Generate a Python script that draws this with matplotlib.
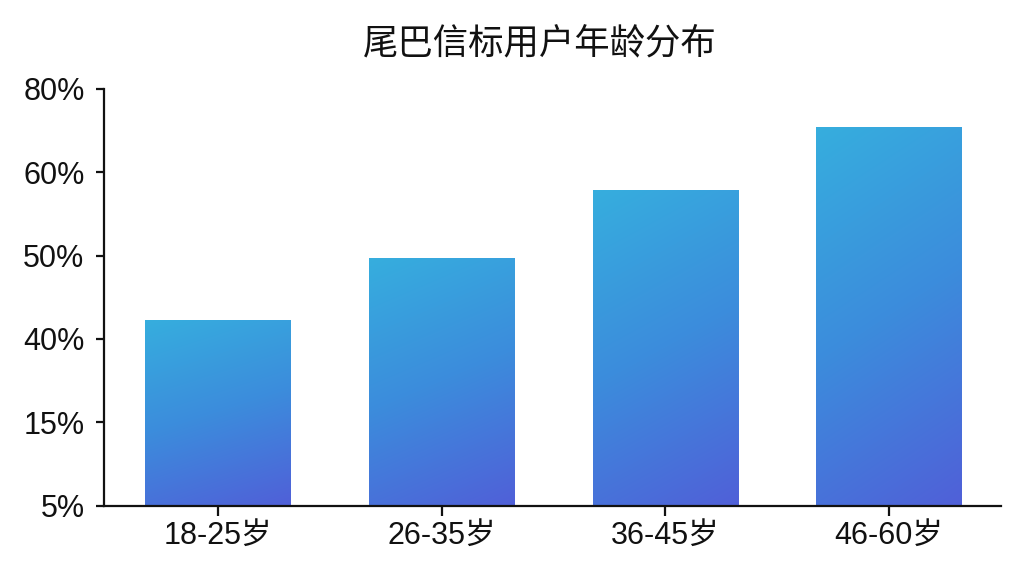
import numpy as np
import matplotlib
matplotlib.use("Agg")
import matplotlib.pyplot as plt
from matplotlib.transforms import BboxTransformTo, TransformedBbox

categories = ["18-25岁", "26-35岁", "36-45岁", "46-60岁"]
values = [42.3, 49.7, 57.9, 70.9]
tick_values = [5, 15, 40, 50, 60, 80]
tick_labels = ["5%", "15%", "40%", "50%", "60%", "80%"]
title = "尾巴信标用户年龄分布"

plt.rcParams['font.family'] = ['Liberation Sans', 'Noto Sans CJK SC', 'DejaVu Sans']

positions = np.arange(len(tick_values), dtype=float)
tv = np.array(tick_values, dtype=float)

def fwd(v):
    return np.interp(v, tv, positions)

def inv(p):
    return np.interp(p, positions, tv)

fig = plt.figure(figsize=(10.24, 5.76), dpi=100)
fig.patch.set_facecolor('white')
ax = fig.add_axes([104/1024, 1-505.5/576, (1001-104)/1024, (505.5-89)/576])
ax.set_yscale('function', functions=(fwd, inv))

x = np.arange(len(categories))
bars = ax.bar(x, np.array(values) - tick_values[0], bottom=tick_values[0], width=0.65,
              color='none', edgecolor='none', zorder=2)

c_top = np.array([54, 174, 222]) / 255
c_mid = np.array([60, 140, 220]) / 255
c_bot = np.array([80, 96, 216]) / 255
ny, nx = 200, 80
yy, xx = np.mgrid[0:1:ny*1j, 0:1:nx*1j]
t = np.clip(0.8 * (1 - yy) + 0.2 * xx, 0, 1)[..., None]
grad = np.where(t < 0.5,
                c_top * (1 - 2 * t) + c_mid * (2 * t),
                c_mid * (2 - 2 * t) + c_bot * (2 * t - 1))

for b in bars:
    tb = TransformedBbox(b.get_bbox(), ax.transData)
    im = ax.imshow(grad, extent=(0, 1, 0, 1), origin='lower', aspect='auto',
                   transform=BboxTransformTo(tb), interpolation='bilinear', zorder=2)
    im.set_clip_path(b)

ax.set_xlim(-0.51, 3.5)
ax.set_ylim(tick_values[0], tick_values[-1])
ax.set_yticks(tick_values)
ax.set_yticklabels(tick_labels)
ax.set_xticks(x)
ax.set_xticklabels(categories)

for s in ['top', 'right']:
    ax.spines[s].set_visible(False)
for s in ['left', 'bottom']:
    ax.spines[s].set_linewidth(1.6)
    ax.spines[s].set_color('#111111')
ax.tick_params(axis='y', length=6, width=1.6, pad=8, labelsize=22, colors='#111111')
ax.tick_params(axis='x', length=7, width=1.6, pad=4, labelsize=22, colors='#111111')

fig.text(540/1024, 1-43/576, title, ha='center', va='center', fontsize=25.5,
         family=['Noto Sans CJK SC', 'DejaVu Sans'], color='#111111')

fig.savefig('out.png', dpi=100, facecolor='white')
